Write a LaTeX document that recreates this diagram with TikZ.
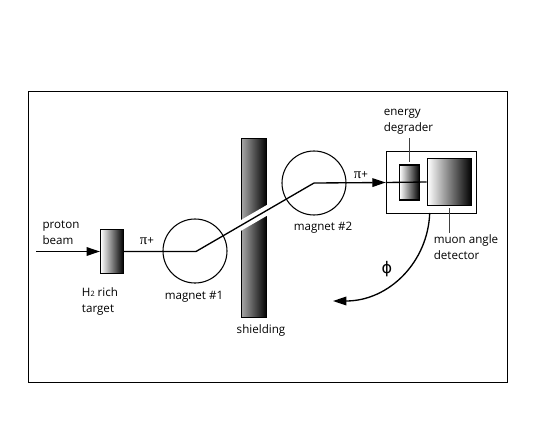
\documentclass[tikz,border=0pt]{standalone}
\usepackage{fontspec}
\setmainfont{Open Sans}
\newfontfamily\symbfont{DejaVu Sans}
\newfontfamily\pifont{Liberation Serif}
\usepackage{tikz}
\usetikzlibrary{arrows.meta,positioning,calc}

\tikzset{
    label text/.style={font=\fontsize{8.7}{12}\selectfont,align=left,inner sep=0pt},
    beam/.style={line width=1pt},
    beam arrow/.style={-{Triangle[length=10pt,width=6.5pt]}},
    magnet/.style={circle,draw,line width=0.8pt,minimum size=48pt,inner sep=0pt},
    grad box/.style={draw,line width=1.2pt,left color=white,right color=black,inner sep=0pt},
    leader/.style={line width=0.5pt,black!75}
}

\begin{document}
\begin{tikzpicture}[x=0.75pt,y=-0.75pt]
\useasboundingbox (0,0) rectangle (550,425);

% ---------------- Frame ----------------
\node[draw,line width=0.75pt,minimum width=359.25pt,minimum height=218.25pt,inner sep=0pt] (frame) at (267.5,236.5) {};

% ---------------- Shielding with slot ----------------
\node[draw,line width=1pt,left color=black!35,middle color=black!95,right color=black,minimum width=19pt,minimum height=134pt,inner sep=0pt] (shield) at (254,228) {};
\coordinate (slotA) at (196,251.5);
\coordinate (slotB) at (314,183);
\draw[white,line width=7pt] ($(slotA)!0.3!(slotB)$) -- ($(slotA)!0.7!(slotB)$);

% ---------------- Target and magnets ----------------
\node[grad box,minimum width=17pt,minimum height=33pt] (target) at (112,251.5) {};
\node[magnet] (mag1) at (195,251) {};
\node[magnet] (mag2) at (314,183) {};

% ---------------- Detector ----------------
\node[draw,line width=0.8pt,fill=white,minimum width=68pt,minimum height=46pt,inner sep=0pt] (housing) at (431.5,182.5) {};
\node[grad box,minimum width=15pt,minimum height=26pt] (degrader) at (409.5,182.5) {};
\node[grad box,minimum width=33pt,minimum height=35pt] (detector) at (449.5,182) {};

% ---------------- Beam ----------------
\coordinate (beamin) at (36,251.5);
\draw[beam,beam arrow] (beamin) -- (target.west);
\draw[beam] (target.east) -- (slotA) -- (slotB);
\draw[beam,beam arrow] (slotB) -- (housing.west);
\draw[beam] (housing.west) -- (detector.west);

% ---------------- Deflection ----------------
\coordinate (phitip) at (333,301);
\coordinate (phistart) at (429.7,213);
\draw[line width=1pt,beam arrow] (phistart) .. controls (428,262) and (389,301) .. (phitip);

% ---------------- Labels ----------------
\node[label text] (protonlbl) at (61,233) {proton\\beam};
\node[label text] (h2lbl) at (100,301.5) {H{\fontsize{5.5}{6}\selectfont 2} rich\\target};
\node[label text] (pi1) at (147,241) {{\pifont\fontsize{11}{12}\selectfont π}+};
\node[label text] (mag1lbl) at (194,297) {magnet \#1};
\node[label text] (mag2lbl) at (323,228) {magnet \#2};
\node[label text] (shieldlbl) at (261,330) {shielding};
\node[label text] (pi2) at (361,175) {{\pifont\fontsize{11}{12}\selectfont π}+};
\node[label text] (degraderlbl) at (408.5,121.5) {energy\\degrader};
\node[label text] (muonlbl) at (466,247) {muon angle\\detector};
\node[font=\fontsize{12}{14}\selectfont\symbfont,inner sep=0pt] (philbl) at (387,269) {ϕ};

% ---------------- Leaders ----------------
\coordinate (degtop) at (409.3,138);
\coordinate (degend) at (409.3,162);
\coordinate (muontop) at (449,208);
\coordinate (muonend) at (449,233);
\draw[leader] (degtop) -- (degend);
\draw[leader] (muontop) -- (muonend);

\end{tikzpicture}
\end{document}
